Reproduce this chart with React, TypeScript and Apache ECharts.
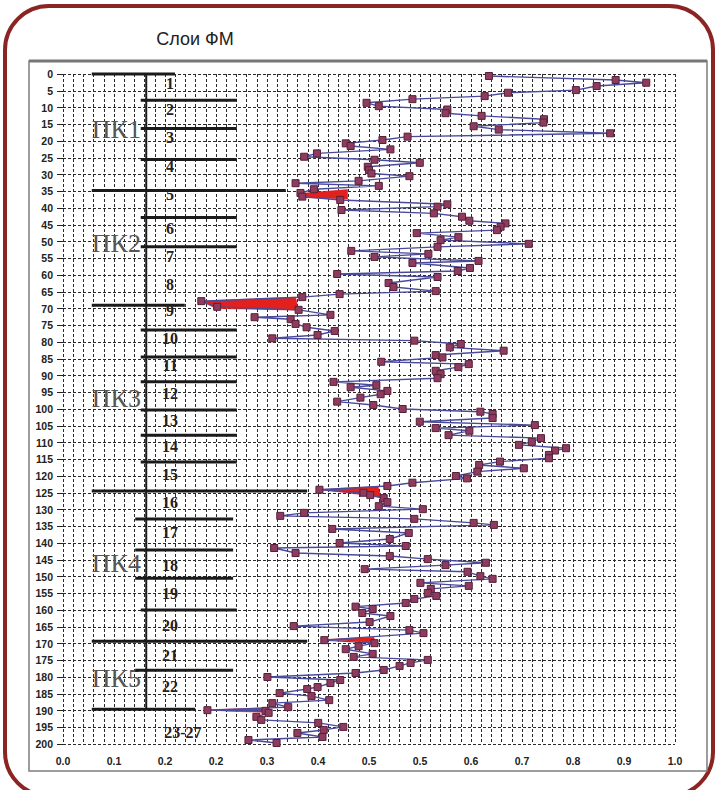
import React, { useEffect, useRef } from "react";
import * as echarts from "echarts";

// ---- data ----
const xTickLabels = ["0.0", "0.1", "0.2", "0.2", "0.3", "0.4", "0.5", "0.5", "0.6", "0.7", "0.8", "0.9", "1.0"];

const depths = [
  0.6, 1.8, 2.6, 3.6, 4.8, 5.6, 6.6, 7.5, 8.6, 9.6, 10.6, 11.7, 12.5, 13.5, 14.5, 15.6, 16.6, 17.7, 18.7, 19.7,
  20.7, 21.5, 22.5, 23.7, 24.7, 25.6, 26.5, 27.7, 28.7, 29.7, 30.5, 31.9, 32.6, 33.4, 34.4, 35.5, 36.6, 37.6, 38.9, 39.6,
  40.6, 41.6, 42.6, 43.8, 44.6, 45.6, 46.6, 47.5, 48.7, 49.6, 50.7, 51.6, 52.8, 53.7, 54.6, 55.8, 56.4, 57.9, 58.8, 59.7,
  60.6, 62.4, 63.6, 64.8, 65.7, 66.6, 67.8, 69.5, 70.4, 71.9, 72.6, 73.2, 74.6, 75.6, 76.7, 77.9, 78.9, 79.6, 80.6, 81.6,
  82.6, 83.9, 84.6, 85.9, 86.6, 87.5, 88.6, 89.6, 90.8, 91.9, 92.9, 93.5, 94.6, 95.6, 96.6, 97.8, 98.8, 100.0, 100.8, 101.5,
  102.7, 103.8, 104.8, 105.7, 106.5, 107.8, 108.7, 109.8, 110.7, 111.7, 112.4, 113.7, 114.7, 115.7, 116.7, 117.7, 118.7, 120.0, 120.7, 122.0,
  123.0, 124.1, 125.0, 125.7, 126.6, 127.8, 129.0, 129.9, 131.0, 131.9, 132.8, 134.0, 134.6, 135.8, 137.0, 138.8, 140.0, 140.9, 141.5, 143.0,
  143.9, 144.8, 145.9, 146.6, 147.8, 148.6, 149.9, 150.7, 151.9, 152.8, 153.7, 154.9, 155.8, 156.7, 157.9, 159.0, 159.7, 160.9, 161.8, 163.6,
  164.8, 166.0, 166.9, 169.0, 169.9, 170.8, 171.7, 173.1, 174.0, 174.9, 175.8, 176.7, 177.9, 178.8, 180.0, 180.9, 181.8, 183.0, 183.6, 184.8,
  185.7, 186.9, 187.8, 189.0, 189.9, 190.1, 190.7, 191.9, 192.8, 193.7, 194.9, 195.8, 196.7, 197.9, 198.8, 199.7,
];

const fmValues = [
  0.696, 0.903, 0.953, 0.872, 0.838, 0.727, 0.689, 0.571, 0.496, 0.516, 0.628, 0.625, 0.684, 0.786, 0.785, 0.671, 0.712, 0.894, 0.563, 0.522,
  0.462, 0.47, 0.535, 0.415, 0.394, 0.509, 0.583, 0.498, 0.5, 0.504, 0.566, 0.483, 0.38, 0.516, 0.41, 0.388, 0.391, 0.453, 0.628, 0.612,
  0.455, 0.606, 0.652, 0.664, 0.723, 0.715, 0.709, 0.578, 0.646, 0.617, 0.761, 0.612, 0.471, 0.597, 0.509, 0.679, 0.571, 0.665, 0.645, 0.448,
  0.612, 0.532, 0.54, 0.609, 0.452, 0.391, 0.226, 0.252, 0.385, 0.437, 0.313, 0.372, 0.38, 0.398, 0.444, 0.416, 0.342, 0.574, 0.65, 0.632,
  0.72, 0.609, 0.62, 0.52, 0.663, 0.646, 0.609, 0.617, 0.612, 0.442, 0.512, 0.47, 0.53, 0.519, 0.486, 0.448, 0.507, 0.555, 0.682, 0.702,
  0.702, 0.583, 0.771, 0.609, 0.664, 0.63, 0.781, 0.766, 0.745, 0.822, 0.804, 0.794, 0.794, 0.714, 0.68, 0.753, 0.677, 0.642, 0.66, 0.571,
  0.53, 0.419, 0.491, 0.502, 0.524, 0.53, 0.516, 0.588, 0.394, 0.355, 0.574, 0.671, 0.704, 0.44, 0.565, 0.534, 0.452, 0.56, 0.345, 0.38,
  0.534, 0.596, 0.691, 0.625, 0.493, 0.661, 0.682, 0.702, 0.584, 0.663, 0.601, 0.596, 0.61, 0.574, 0.56, 0.478, 0.506, 0.489, 0.535, 0.501,
  0.377, 0.566, 0.589, 0.427, 0.509, 0.483, 0.462, 0.506, 0.475, 0.596, 0.568, 0.55, 0.524, 0.478, 0.334, 0.453, 0.437, 0.416, 0.399, 0.354,
  0.406, 0.435, 0.342, 0.368, 0.236, 0.331, 0.336, 0.316, 0.324, 0.417, 0.458, 0.426, 0.383, 0.424, 0.303, 0.349,
];

// red filled wedges (x value, depth)
const redWedges = [
  [[0.39, 35.6], [0.465, 34.5], [0.465, 37.3], [0.39, 36.9]],
  [[0.226, 67.8], [0.38, 66.6], [0.385, 70.5], [0.25, 70.0]],
  [[0.419, 124.0], [0.515, 123.2], [0.52, 126.5], [0.48, 125.4]],
  [[0.427, 168.8], [0.508, 168.1], [0.51, 169.7]],
  [[0.236, 189.8], [0.33, 189.2], [0.335, 190.6], [0.27, 190.2]],
];

// layer boundaries (depth) and which kind of boundary they are
const layerBoundaryDepths = [0, 7.8, 16.3, 25.5, 34.8, 42.8, 51.6, 69.0, 76.4, 84.5, 91.9, 100.3, 107.8, 115.8, 124.5, 132.8, 142.1, 150.5, 160.0, 169.3, 178.0, 189.6];
const layerBoundaryKinds = ["top", "layer", "layer", "layer", "pk", "layer", "layer", "mid", "layer", "layer", "layer", "layer", "layer", "layer", "pk2", "layer2", "layer2", "layer2", "layer", "pk2", "layer2", "end"];

const layerNames = ["1", "2", "3", "4", "5", "6", "7", "8", "9", "10", "11", "12", "13", "14", "15", "16", "17", "18", "19", "20", "21", "22", "23-27"];
const layerNameDepths = [2.7, 10.7, 19.0, 27.5, 36.0, 46.0, 54.6, 62.7, 70.5, 78.9, 86.9, 95.3, 103.3, 111.3, 119.7, 127.8, 137.0, 146.6, 155.0, 164.5, 173.7, 182.7, 196.7];

const pkNames = ["ПК1", "ПК2", "ПК3", "ПК4", "ПК5"];
const pkDepths = [16.7, 50.5, 96.8, 146.0, 180.3];

// ---- styling constants ----
const BOUNDARY_EXTENT: Record<string, [number, number]> = {
  top: [0.047, 0.183],
  layer: [0.127, 0.284],
  layer2: [0.118, 0.278],
  pk: [0.047, 0.364],
  pk2: [0.047, 0.399],
  mid: [0.047, 0.199],
  end: [0.047, 0.216],
};
const AXIS_X = 0.136;
const LAYER_LABEL_X = 0.175;
const PK_LABEL_X = 0.047;
const X_MIN = 0;
const X_MAX = 1;
const Y_MAX = 200;
const AXIS_FONT = "bold 10.5px 'Liberation Sans', Arial, sans-serif";

function buildOption() {
  const points = depths.map((d, i) => [fmValues[i], d]);
  const dashed = { type: [3, 2] as any, color: "#2a2a2a", width: 1 };
  const tickCount = xTickLabels.length - 1;

  return {
    animation: false,
    backgroundColor: "#ffffff",
    grid: { left: 63, right: 43, top: 74, bottom: 46, containLabel: false },
    graphic: [
      {
        type: "rect",
        shape: { x: 5, y: 6, width: 708, height: 790, r: 44 },
        style: { fill: "none", stroke: "#8a2523", lineWidth: 4 },
        silent: true,
      },
      {
        type: "rect",
        shape: { x: 29, y: 61, width: 678, height: 710 },
        style: { fill: "none", stroke: "#7d7d7d", lineWidth: 1.5 },
        silent: true,
      },
      {
        type: "line",
        shape: { x1: 29, y1: 61, x2: 707, y2: 61 },
        style: { stroke: "#777", lineWidth: 3 },
        silent: true,
      },
      {
        type: "text",
        x: 195,
        y: 39,
        style: {
          text: "Слои ФМ",
          font: "18px 'Liberation Sans', Arial, sans-serif",
          fill: "#222",
          align: "center",
          verticalAlign: "middle",
        },
        silent: true,
      },
    ],
    xAxis: {
      type: "value",
      min: X_MIN,
      max: X_MAX,
      interval: (X_MAX - X_MIN) / tickCount,
      axisLine: { show: false },
      axisTick: { show: false },
      axisLabel: {
        margin: 11,
        fontFamily: "'Liberation Sans', Arial, sans-serif",
        fontWeight: "bold",
        fontSize: 10.5,
        color: "#222",
        formatter: (v: number) => xTickLabels[Math.round(((v - X_MIN) / (X_MAX - X_MIN)) * tickCount)] ?? "",
      },
      splitLine: { show: true, lineStyle: dashed },
      minorTick: { show: false, splitNumber: 5 },
      minorSplitLine: { show: true, lineStyle: dashed },
    },
    yAxis: {
      type: "value",
      inverse: true,
      min: 0,
      max: Y_MAX,
      interval: 5,
      axisLine: { show: false },
      axisTick: { show: true, length: 6, lineStyle: { color: "#222", width: 1 } },
      axisLabel: {
        margin: 10,
        fontFamily: "'Liberation Sans', Arial, sans-serif",
        fontWeight: "bold",
        fontSize: 10.5,
        color: "#222",
      },
      splitLine: { show: true, lineStyle: dashed },
    },
    series: [
      {
        type: "custom",
        name: "boundaries",
        coordinateSystem: "cartesian2d",
        z: 3,
        silent: true,
        data: layerBoundaryDepths.map((d, i) => [0, d, i]),
        renderItem: (params: any, api: any) => {
          const d = api.value(1);
          const idx = api.value(2);
          const ext = BOUNDARY_EXTENT[layerBoundaryKinds[idx]];
          const p1 = api.coord([ext[0], d]);
          const p2 = api.coord([ext[1], d]);
          const children: any[] = [
            {
              type: "line",
              shape: { x1: p1[0], y1: p1[1], x2: p2[0], y2: p2[1] },
              style: { stroke: "#1a1a1a", lineWidth: 3 },
            },
          ];
          if (idx === 0) {
            const a = api.coord([AXIS_X, 0]);
            const b = api.coord([AXIS_X, layerBoundaryDepths[layerBoundaryDepths.length - 1]]);
            children.push({
              type: "line",
              shape: { x1: a[0], y1: a[1], x2: b[0], y2: b[1] },
              style: { stroke: "#1a1a1a", lineWidth: 2 },
            });
          }
          return { type: "group", children };
        },
      },
      {
        type: "custom",
        name: "pk",
        coordinateSystem: "cartesian2d",
        z: 2,
        silent: true,
        data: pkDepths.map((d, i) => [PK_LABEL_X, d, i]),
        renderItem: (params: any, api: any) => {
          const p = api.coord([api.value(0), api.value(1)]);
          return {
            type: "text",
            x: p[0],
            y: p[1],
            style: {
              text: pkNames[api.value(2)],
              font: "26px 'Liberation Serif', 'Times New Roman', serif",
              fill: "#555",
              align: "left",
              verticalAlign: "middle",
            },
          };
        },
      },
      {
        type: "custom",
        name: "layers",
        coordinateSystem: "cartesian2d",
        z: 4,
        silent: true,
        data: layerNameDepths.map((d, i) => [LAYER_LABEL_X, d, i]),
        renderItem: (params: any, api: any) => {
          const idx = api.value(2);
          const name = layerNames[idx];
          const p = api.coord([api.value(0) + (name.length > 2 ? 0.021 : 0), api.value(1)]);
          return {
            type: "text",
            x: p[0],
            y: p[1],
            style: {
              text: name,
              font: "bold 16px 'Liberation Serif', 'Times New Roman', serif",
              fill: "#222",
              align: "center",
              verticalAlign: "middle",
            },
          };
        },
      },
      {
        type: "custom",
        name: "wedges",
        coordinateSystem: "cartesian2d",
        z: 5,
        silent: true,
        data: redWedges.map((w, i) => [w[0][0], w[0][1], i]),
        renderItem: (params: any, api: any) => {
          const w = redWedges[api.value(2)];
          return {
            type: "polygon",
            shape: { points: w.map((pt) => api.coord(pt)) },
            style: { fill: "#e3201c", stroke: "#d01818", lineWidth: 0.5 },
          };
        },
      },
      {
        type: "line",
        name: "ФМ",
        z: 6,
        data: points,
        showAllSymbol: true,
        symbol: "rect",
        symbolSize: 7,
        lineStyle: { color: "#4a4a9c", width: 1.4 },
        itemStyle: { color: "#8e3b5e", borderColor: "#55203a", borderWidth: 1 },
      },
    ],
  };
}

export default function App() {
  const ref = useRef<HTMLDivElement>(null);
  useEffect(() => {
    if (!ref.current) return;
    const chart = echarts.init(ref.current, null, { renderer: "svg" });
    chart.setOption(buildOption() as any);
    return () => chart.dispose();
  }, []);
  return (
    <div style={{ position: "fixed", left: 0, top: 0, width: 718, height: 790, background: "#fff" }}>
      <div ref={ref} style={{ width: 718, height: 790 }} />
    </div>
  );
}
